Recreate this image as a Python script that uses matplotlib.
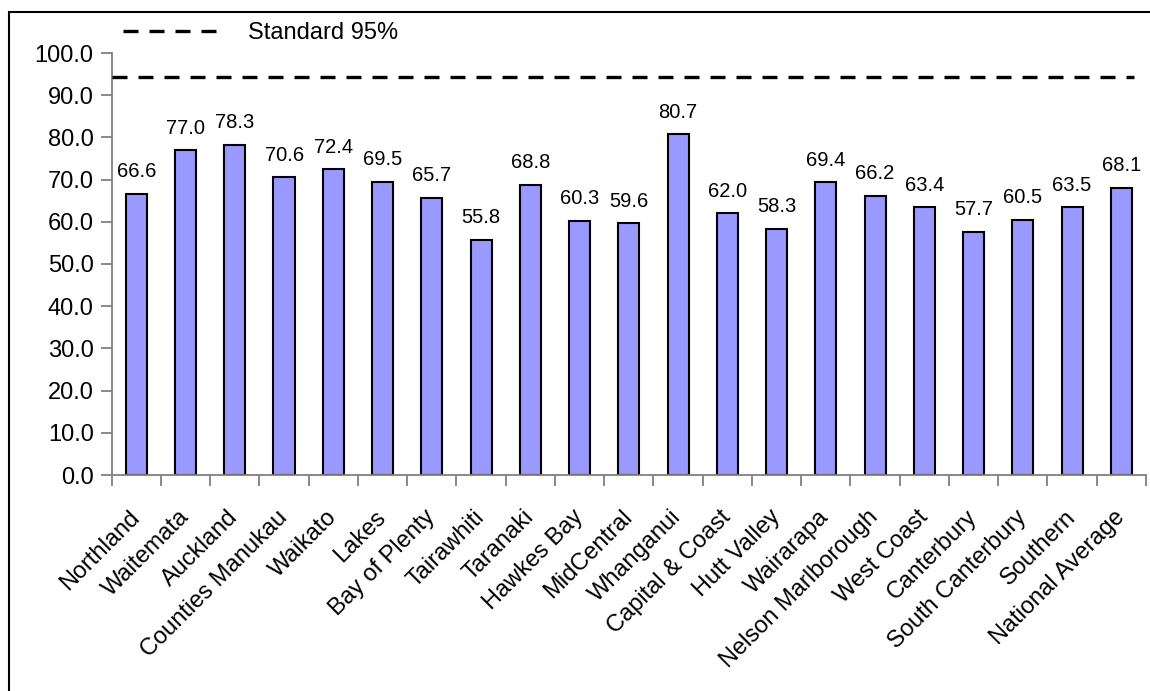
import numpy as np
import matplotlib
matplotlib.use('Agg')
import matplotlib.pyplot as plt
from matplotlib.lines import Line2D
from matplotlib.patches import Rectangle

plt.rcParams['font.family'] = ['Liberation Sans', 'DejaVu Sans']

# data
regions = ['Northland', 'Waitemata', 'Auckland', 'Counties Manukau', 'Waikato',
           'Lakes', 'Bay of Plenty', 'Tairawhiti', 'Taranaki', 'Hawkes Bay',
           'MidCentral', 'Whanganui', 'Capital & Coast', 'Hutt Valley',
           'Wairarapa', 'Nelson Marlborough', 'West Coast', 'Canterbury',
           'South Canterbury', 'Southern', 'National Average']
values = [66.6, 77.0, 78.3, 70.6, 72.4, 69.5, 65.7, 55.8, 68.8, 60.3, 59.6,
          80.7, 62.0, 58.3, 69.4, 66.2, 63.4, 57.7, 60.5, 63.5, 68.1]
standard = 94.4
yticks = np.arange(0, 101, 10)

W, H = 1150, 691
fig = plt.figure(figsize=(W / 100, H / 100), dpi=100)
ax = fig.add_axes([111.7 / W, 1 - 475 / H, (1146 - 111.7) / W, (475 - 53) / H])

x = np.arange(len(regions))
bars = ax.bar(x, values, width=0.43, color='#9999FF', edgecolor='black', linewidth=1.5, zorder=2)

for xi, v in zip(x, values):
    ax.annotate('%.1f' % v, (xi, v), xytext=(0, 9), textcoords='offset points',
                ha='center', va='bottom', fontsize=14.5)

# standard line
std_line, = ax.plot([-0.5, 20.25], [standard, standard], color='black', lw=2.4,
                    linestyle=(0, (4.5, 3.3)), zorder=3, clip_on=False)

ax.set_xlim(-0.5, len(regions) - 0.5)
ax.set_ylim(0, 100)
ax.set_yticks(yticks)
ax.set_yticklabels(['%.1f' % t for t in yticks], fontsize=17)
ax.set_xticks(x)
ax.set_xticklabels(regions, rotation=45, ha='right', va='center',
                   rotation_mode='anchor', fontsize=17)
ax.set_xticks(np.arange(-0.5, len(regions)), minor=True)
ax.tick_params(axis='x', which='major', length=0, pad=28)
ax.tick_params(axis='x', which='minor', length=8, width=1.3, color='#808080', direction='out')
ax.tick_params(axis='y', length=8, width=1.3, color='#808080', pad=5)

for s in ['top', 'right']:
    ax.spines[s].set_visible(False)
for s in ['left', 'bottom']:
    ax.spines[s].set_color('#808080')
    ax.spines[s].set_linewidth(1.3)

# legend
fig.legend(handles=[Line2D([0], [0], color='black', lw=2.4, linestyle=(0, (4.5, 3.3)))],
           labels=['Standard 95%'], loc='center left',
           bbox_to_anchor=(123 / W, 1 - 33 / H), frameon=False, borderpad=0,
           borderaxespad=0, handlelength=4, handletextpad=1.3, fontsize=17)

# outer border
fig.patches.append(Rectangle((9 / W, -0.05), 1.2, 1 - 12.3 / H + 0.05, transform=fig.transFigure,
                             fill=False, edgecolor='black', linewidth=1.5))

fig.savefig('out.png', dpi=100)
